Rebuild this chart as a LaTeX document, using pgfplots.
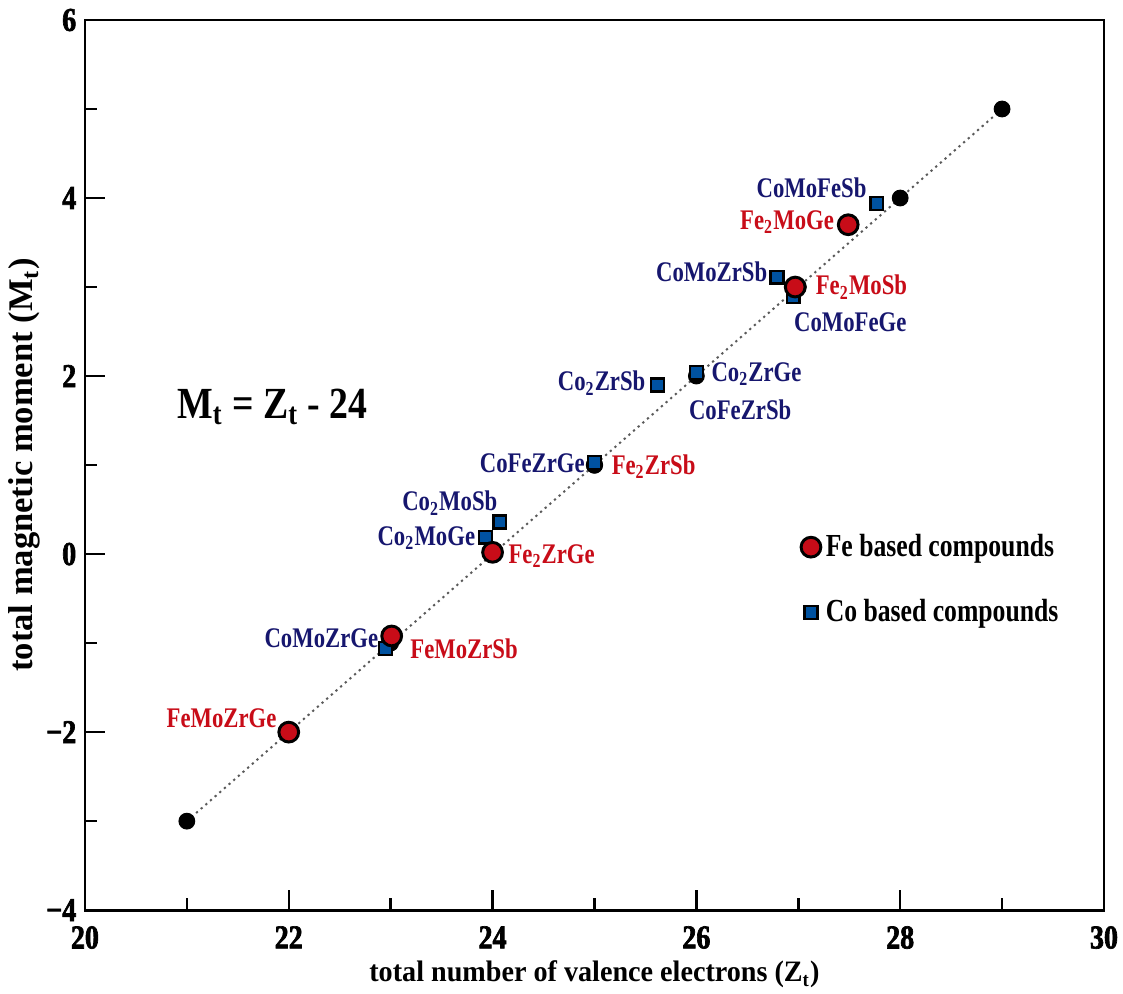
\documentclass[border=0pt]{standalone}
\usepackage{fontspec}
\setmainfont{Liberation Serif}
\newfontfamily\annfam[FakeStretch=0.8]{Liberation Serif}
\newfontfamily\tickfam[FakeStretch=0.84,FakeBold=2]{Liberation Serif Bold}
\newfontfamily\xlabfam[FakeStretch=0.95]{Liberation Serif}
\newfontfamily\eqfam[FakeStretch=0.85]{Liberation Serif}
\usepackage{pgfplots}
\pgfplotsset{compat=1.18}
\definecolor{fered}{RGB}{200,12,24}
\definecolor{cotext}{RGB}{22,22,110}
\definecolor{cofill}{RGB}{0,82,160}
\definecolor{dotgray}{RGB}{90,90,90}
\newcommand{\annfont}{\annfam\bfseries\fontsize{11.5}{13}\selectfont}
\newcommand{\tf}[1]{\hbox{\tickfam\fontsize{13.5}{15}\selectfont #1}}
\begin{document}
\begin{tikzpicture}
\begin{axis}[
  name=main,
  scale only axis,
  width=412.7pt, height=360.5pt,
  xmin=20, xmax=30, ymin=-4, ymax=6,
  axis line style={line width=1.1pt},
  xtick={20,22,24,26,28,30},
  xticklabels={\tf{20},\tf{22},\tf{24},\tf{26},\tf{28},\tf{30}},
  ytick={-4,-2,0,2,4,6},
  yticklabels={\tf{−4},\tf{−2},\tf{0},\tf{2},\tf{4},\tf{6}},
  minor x tick num=1, minor y tick num=1,
  tick pos=left,
  tick align=inside,
  major tick length=8pt, minor tick length=5pt,
  tick style={line width=1pt, black},
  xticklabel style={yshift=-3pt},
  xlabel={total number of valence electrons (Z\textsubscript{t})},
  ylabel={total magnetic moment (M\textsubscript{t})},
  xlabel style={font=\xlabfam\bfseries\fontsize{12}{13}\selectfont, yshift=2pt},
  ylabel style={font=\bfseries\fontsize{14}{15}\selectfont, yshift=-4.5pt},
  legend style={draw=none, fill=none, at={(rel axis cs:0.695,0.371)}, anchor=west,
    font=\annfam\bfseries\fontsize{13}{14}\selectfont, row sep=12pt},
  legend cell align=left,
  legend image code/.code={\draw[mark repeat=2,mark phase=2,#1] plot coordinates {(0cm,0cm)(0.2cm,0cm)(0.4cm,0cm)};},
  clip=false,
]
\addlegendimage{only marks, mark=*, mark size=4pt, mark options={fill=fered, draw=black, line width=1.2pt}}
\addlegendentry{Fe based compounds}
\addlegendimage{only marks, mark=square*, mark size=2.6pt, mark options={fill=cofill, draw=black, line width=1pt}}
\addlegendentry{Co based compounds}

% dotted guide line M = Z - 24
\addplot[forget plot, dotgray, line width=0.8pt, dash pattern=on 0.9pt off 1.6pt] coordinates {(21,-3) (29,5)};

% Fe2ZrSb (hidden under the other markers)
\addplot[forget plot, only marks, mark=*, mark size=3.2pt, mark options={fill=fered, draw=black, line width=0.6pt}] coordinates {(25,1.0)};

% Slater-Pauling points
\addplot[forget plot, only marks, mark=*, mark size=3.2pt, black] coordinates {
(21,-3) (22,-2) (23,-1) (24,0) (25,1) (26,2) (27,3) (28,4) (29,5)};

% Co based compounds
\addplot[forget plot, only marks, mark=square*, mark size=2.6pt, mark options={fill=cofill, draw=black, line width=1pt}] coordinates {
(22.95,-1.06) (23.93,0.19) (24.07,0.36) (25.0,1.03) (25.62,1.90) (26.0,2.04) (26.79,3.11) (26.95,2.89) (27.77,3.94)};

% Fe based compounds
\addplot[forget plot, only marks, mark=*, mark size=4pt, mark options={fill=fered, draw=black, line width=1.2pt}] coordinates {
(22.0,-2.0) (23.01,-0.92) (24.0,0.02) (26.97,3.0) (27.49,3.70)};

% labels
\node[text=fered,  font=\annfont] at (axis cs:21.34,-1.84) {FeMoZrGe};
\node[text=cotext, font=\annfont] at (axis cs:22.32,-0.94) {CoMoZrGe};
\node[text=fered,  font=\annfont] at (axis cs:23.72,-1.06) {FeMoZrSb};
\node[text=cotext, font=\annfont] at (axis cs:23.35,0.18) {Co\textsubscript{2}MoGe};
\node[text=cotext, font=\annfont] at (axis cs:23.58,0.57) {Co\textsubscript{2}MoSb};
\node[text=fered,  font=\annfont] at (axis cs:24.58,-0.02) {Fe\textsubscript{2}ZrGe};
\node[text=cotext, font=\annfont] at (axis cs:24.39,1.02) {CoFeZrGe};
\node[text=fered,  font=\annfont] at (axis cs:25.58,0.98) {Fe\textsubscript{2}ZrSb};
\node[text=cotext, font=\annfont] at (axis cs:25.07,1.92) {Co\textsubscript{2}ZrSb};
\node[text=cotext, font=\annfont] at (axis cs:26.59,2.02) {Co\textsubscript{2}ZrGe};
\node[text=cotext, font=\annfont] at (axis cs:26.43,1.62) {CoFeZrSb};
\node[text=cotext, font=\annfont] at (axis cs:26.15,3.17) {CoMoZrSb};
\node[text=fered,  font=\annfont] at (axis cs:27.62,3.0) {Fe\textsubscript{2}MoSb};
\node[text=cotext, font=\annfont] at (axis cs:27.51,2.61) {CoMoFeGe};
\node[text=fered,  font=\annfont] at (axis cs:26.89,3.73) {Fe\textsubscript{2}MoGe};
\node[text=cotext, font=\annfont] at (axis cs:27.13,4.12) {CoMoFeSb};
\node[font=\eqfam\bfseries\fontsize{18}{20}\selectfont] at (axis cs:21.84,1.65) {M\textsubscript{t} = Z\textsubscript{t} - 24};
\end{axis}
\pgfresetboundingbox
\path[use as bounding box] ([shift={(-34.4pt,-33.6pt)}]main.south west) rectangle ([shift={(7.7pt,8.1pt)}]main.north east);
\end{tikzpicture}
\end{document}
